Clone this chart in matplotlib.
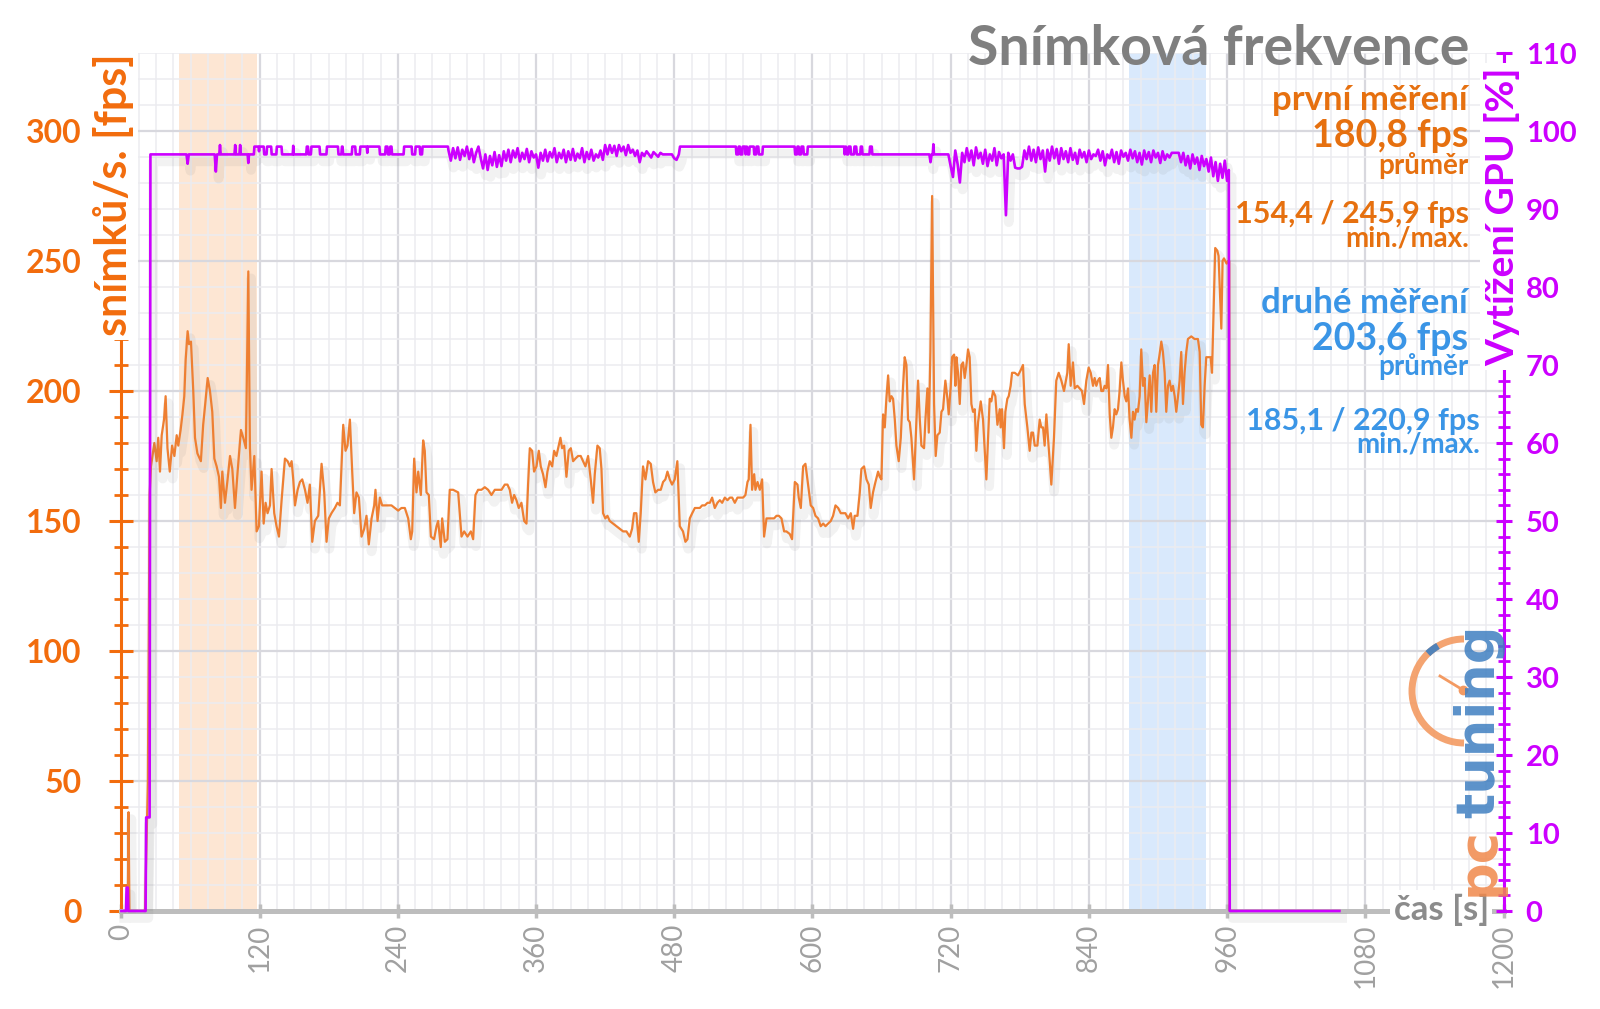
import numpy as np
import matplotlib
matplotlib.use("Agg")
import matplotlib.pyplot as plt
import matplotlib.patheffects as pe
from matplotlib.patches import Arc
from matplotlib.ticker import MultipleLocator

plt.rcParams.update({"font.family": ["Lato", "DejaVu Sans"]})

W, H = 1600, 1009

ORANGE = "#ee7f32"      # fps line
ORANGE_TXT = "#f26c0d"  # left axis
ORANGE_ANN = "#e6700f"  # first measurement text
MAGENTA = "#cc00ff"     # GPU load
BLUE_TXT = "#3a95e6"
GRAY_AX = "#bdbdbd"
GRAY_TXT = "#a0a0a0"
TITLE = "#7f7f7f"

# ---------------------------------------------------------------- data
# frame rate [fps] over time [s]
FPS_T = [0, 5.5, 6.2, 7, 20.5, 23, 24.5, 25.7, 28.6, 30.6,
         32, 33.5, 35, 37, 38.4, 40, 42, 44, 46, 48,
         49.4, 51.4, 53, 54.6, 55.8, 57.5, 58.7, 60.4, 62.4, 63.9,
         66, 69, 71, 73, 74.9, 76.9, 78.9, 80.7, 82.7, 84.7,
         86.4, 87.6, 89.9, 92.2, 94.3, 96.3, 98.6, 100.9, 103.8, 105.8,
         108.1, 110.2, 111.6, 113, 115.4, 117.4, 119.4, 121.7, 123.5, 125.2,
         126.9, 129, 130.4, 132.7, 134.7, 136.8, 139.1, 142, 144.3, 146.3,
         147.8, 149.2, 150.7, 153, 155, 157, 159.4, 161.6, 163.6, 165.7,
         168, 170.9, 173.8, 176.1, 178.1, 180.1, 182.4, 185.3, 187.6, 189.7,
         192.6, 194.6, 196.3, 198.4, 200.4, 202.1, 204.1, 206.2, 208.5, 210.8,
         212.8, 214.8, 217.2, 219.5, 220.6, 222.4, 224.4, 226.4, 228.7, 231.6,
         234.5, 237.4, 240.3, 243.2, 246.1, 249, 251.3, 252.5, 254.2, 256.2,
         257.7, 260, 262, 263.4, 264.9, 266.9, 268.7, 271.5, 273.6, 275,
         277.3, 278.5, 280.8, 283.1, 285.1, 288, 292.4, 295.3, 297.6, 300.5,
         303.4, 305.4, 307.4, 309.7, 312.6, 315.5, 318.4, 321.3, 324.2, 327.1,
         330, 332.9, 335.2, 337.2, 339.2, 341, 343, 345, 347.3, 349.7,
         351.7, 353.1, 354.6, 356.6, 358.3, 360.4, 362.4, 364.1, 366.1, 368.2,
         369.9, 371.9, 374, 375.7, 377.7, 379.7, 381.2, 382.6, 384.4, 386.4,
         388.4, 390.2, 392.2, 394.2, 396.5, 398.8, 400.9, 402.9, 405.2, 407.5,
         409.5, 411, 413.3, 415.3, 416.8, 418.2, 420.2, 422, 424, 426.9,
         429.8, 432.7, 435.6, 438.5, 441.4, 443.4, 445.1, 447.1, 449.2, 450.9,
         452.9, 455, 457.3, 459.6, 461.6, 463.6, 466, 468.3, 470.3, 472.3,
         474.1, 476.1, 478.1, 480.4, 482.7, 484.8, 487.6, 489.7, 491.5, 493.5,
         495.6, 497.9, 500.2, 502.2, 504.2, 506.6, 508.9, 510.9, 512.9, 515.2,
         517.5, 519.6, 521.6, 523.9, 526.2, 528.3, 530.3, 532.6, 534.9, 536.9,
         539.8, 541.8, 543.6, 544.7, 546.2, 547.6, 549.4, 550.5, 552.3, 554.3,
         556.3, 558, 560.1, 562.1, 564.4, 566.7, 568.8, 570.8, 573.1, 575.4,
         577.4, 580.3, 582.3, 584.7, 587, 588.1, 589.9, 591.9, 593.9, 596.2,
         598.5, 600.6, 602.6, 604.9, 607.2, 609.3, 611.3, 613.6, 615.9, 617.9,
         620, 622.3, 624.6, 626.6, 628.6, 631, 633.3, 635.3, 636.7, 639.1,
         641.1, 642.5, 644.8, 646.9, 648.9, 650.6, 652.6, 654.7, 657, 658.4,
         659.9, 661.3, 662.8, 664.2, 665.7, 667.1, 668.6, 670, 671.5, 672.9,
         674.9, 676.7, 678.7, 680.1, 681.6, 683, 684.5, 685.9, 688.2, 690.3,
         691.7, 693.2, 694.6, 696.9, 698.1, 699.8, 701, 702.4, 703.9, 705.6,
         707, 708.5, 710.5, 712, 713.4, 715.4, 717.2, 718.3, 720.1, 721.2,
         723, 724.1, 725, 726.4, 727.9, 729.3, 730.8, 732.2, 733.7, 735.1,
         736.5, 738, 739.4, 740.9, 742.3, 743.8, 746.1, 748.1, 749.6, 751,
         752.5, 753.9, 755.3, 756.8, 758.8, 760.6, 762.6, 763.4, 764.6, 766.3,
         767.5, 769.2, 770.4, 772.1, 773.3, 775.6, 778.5, 780.8, 782.8, 784.3,
         786.6, 788.6, 790.1, 791.5, 793, 795.3, 797.3, 798.7, 800.2, 801.6,
         803.1, 804.5, 806, 807.4, 809.7, 811.7, 813.8, 816.1, 818.4, 821.3,
         822.5, 824.2, 826.2, 827.7, 830, 832, 834, 835.8, 837.8, 839.8,
         841.6, 843.6, 845, 846.5, 847.9, 849.4, 850.8, 852.3, 853.7, 855.2,
         856.6, 858.1, 859.5, 860.9, 862.4, 863.8, 865.3, 866.7, 868.2, 869.6,
         871.1, 872.5, 874, 875.4, 876.9, 878.3, 879.7, 881.2, 882.6, 884.1,
         885.5, 887, 888.4, 889.9, 891.3, 892.8, 894.2, 895.7, 897.1, 898.5,
         900, 901.4, 902.9, 904.3, 905.8, 907.2, 908.7, 910.1, 911.6, 913,
         914.5, 915.9, 917.4, 918.8, 920.2, 921.7, 923.1, 924.6, 926, 928.9,
         931.8, 934.7, 936.2, 937.6, 939, 940.5, 941.9, 943.4, 945.7, 946.9,
         948.6, 949.7, 951.5, 952.6, 953.8, 955, 956.1, 957.3, 958.4, 959.6,
         960.7, 961.9, 962.2, 1057.5]
FPS_V = [0, 0, 38, 0, 0, 50, 160, 171, 180, 173,
         182, 169, 183, 189, 198, 178, 169, 179, 175, 183,
         179, 185, 191, 198, 212, 223, 218, 219, 200, 182,
         176, 173, 187, 196, 205, 200, 192, 174, 171, 167,
         155, 169, 157, 166, 175, 170, 155, 169, 185, 182,
         178, 246, 178, 162, 175, 146, 148, 169, 149, 157,
         153, 156, 170, 153, 148, 144, 158, 174, 173, 171,
         173, 166, 156, 162, 165, 166, 162, 157, 164, 142,
         150, 152, 172, 161, 142, 151, 153, 155, 157, 156,
         187, 177, 179, 189, 169, 153, 161, 159, 144, 147,
         152, 141, 151, 156, 162, 150, 159, 156, 156, 156,
         156, 155, 154, 155, 155, 151, 143, 146, 174, 161,
         169, 160, 181, 177, 161, 160, 144, 143, 148, 150,
         140, 151, 142, 143, 162, 162, 161, 144, 146, 144,
         146, 143, 160, 162, 162, 163, 162, 160, 162, 162,
         162, 164, 164, 162, 157, 160, 158, 155, 157, 150,
         149, 164, 178, 177, 169, 171, 177, 171, 168, 163,
         169, 173, 171, 177, 175, 179, 182, 178, 179, 167,
         177, 178, 173, 174, 175, 175, 173, 171, 175, 166,
         157, 168, 179, 178, 170, 153, 151, 152, 150, 149,
         148, 147, 146, 146, 144, 147, 153, 153, 142, 153,
         171, 166, 173, 172, 165, 161, 162, 162, 165, 166,
         169, 166, 164, 166, 173, 148, 146, 142, 143, 151,
         153, 155, 155, 155, 156, 156, 157, 157, 159, 155,
         157, 158, 157, 159, 158, 159, 159, 157, 159, 159,
         159, 160, 165, 166, 187, 162, 168, 162, 165, 162,
         166, 144, 151, 151, 151, 151, 152, 152, 151, 146,
         146, 145, 143, 165, 164, 159, 155, 171, 172, 164,
         156, 155, 152, 151, 148, 149, 148, 149, 150, 152,
         156, 155, 153, 153, 153, 151, 153, 147, 152, 152,
         161, 170, 171, 166, 164, 155, 161, 165, 169, 167,
         166, 191, 186, 197, 206, 196, 198, 197, 189, 179,
         173, 182, 202, 213, 210, 189, 188, 182, 166, 189,
         204, 189, 179, 178, 189, 201, 184, 215, 275, 195,
         175, 183, 184, 192, 193, 204, 197, 191, 202, 213,
         214, 202, 213, 207, 195, 210, 211, 205, 210, 216,
         213, 195, 192, 193, 177, 188, 196, 189, 177, 166,
         182, 197, 196, 200, 198, 187, 193, 186, 193, 178,
         192, 197, 198, 202, 207, 207, 206, 208, 210, 195,
         186, 177, 184, 184, 179, 179, 189, 186, 186, 179,
         191, 182, 173, 164, 182, 204, 207, 204, 200, 207,
         218, 202, 211, 201, 202, 201, 200, 195, 204, 209,
         207, 202, 205, 202, 204, 205, 200, 200, 202, 201,
         210, 191, 182, 186, 193, 191, 193, 200, 211, 204,
         198, 196, 201, 189, 182, 192, 189, 193, 192, 198,
         216, 202, 205, 188, 196, 206, 192, 207, 210, 192,
         210, 214, 219, 215, 207, 192, 202, 204, 200, 202,
         198, 192, 198, 204, 215, 195, 207, 215, 220, 221,
         220, 220, 215, 187, 186, 202, 213, 213, 213, 207,
         236, 255, 254, 252, 238, 224, 250, 251, 250, 249,
         250, 250, 0, 0]

# GPU load [%]: steady stretches as (time, value) pairs, noisy stretches sampled every 2 s
GPU_START = [(0, 0), (4, 0), (4.5, 3), (5.5, 3), (6, 0), (21, 0), (21.5, 12), (24.5, 12), (25.2, 97),
             (56.5, 97), (57.5, 95.8), (58.5, 97), (81, 97), (82, 94.8), (83, 97), (85, 97), (85.6, 98.2),
             (86.2, 97), (98.2, 97), (98.8, 98.2), (99.4, 97), (102.5, 97), (103.1, 98.2), (103.7, 97),
             (109.6, 97), (110.2, 95.9), (110.8, 97), (115, 97), (115.5, 98), (119, 98), (119.5, 97.4),
             (120, 98), (123.5, 98), (124, 97), (126, 97), (126.5, 98), (130, 98), (130.5, 97),
             (134.5, 97), (135, 98), (139, 98), (139.5, 97), (148.8, 97), (149.2, 98.1), (149.6, 97),
             (160.5, 97), (161, 98), (162, 98), (162.5, 97), (164.5, 97), (165, 98), (172, 98),
             (172.5, 97), (178, 97), (178.5, 98), (188, 98), (188.5, 97), (191, 97), (191.5, 98),
             (192, 98), (192.5, 97), (200, 97), (200.5, 98), (203, 98), (203.5, 97), (207, 97),
             (207.5, 98), (213, 98), (213.5, 97.2), (214, 98), (224, 98), (224.5, 97), (229, 97),
             (229.5, 98), (231, 98), (231.5, 97), (233, 97), (233.5, 98), (234.5, 98), (235, 97),
             (245, 97), (245.5, 98), (252, 98), (252.5, 97), (255, 97), (255.5, 98), (259, 98),
             (259.5, 97), (261, 97), (261.5, 98), (283.5, 98)]
GPU_NOISY_A_START = 284
GPU_NOISY_A = [97.5, 96.2, 97.8, 96.5, 97.9, 96.3, 97.6, 96.8, 98.0, 96.4,
               97.7, 96.0, 97.2, 98.0, 96.5, 95.2, 97.0, 95.0, 96.8, 95.6,
               97.3, 95.4, 96.9, 95.5, 97.4, 96.2, 97.6, 96.0, 97.5, 96.6,
               97.8, 96.1, 97.2, 96.4, 97.7, 96.0, 97.4, 96.6, 97.0, 95.3,
               97.2, 96.2, 97.6, 96.1, 97.3, 96.6, 97.8, 96.0, 97.2, 96.5,
               97.6, 96.0, 97.4, 96.3, 97.7, 96.2, 97.1, 96.5, 97.8, 96.0,
               97.3, 96.4, 97.6, 96.2, 97.0, 96.6, 97.5, 96.3, 98.2, 97.0,
               98.2, 97.2, 98.1, 96.8, 98.2, 97.4, 98.0, 96.9, 98.2, 97.2,
               97.6, 96.8, 97.5, 96.0, 97.2, 96.8, 97.4, 97.0, 96.6, 97.3,
               97.0, 96.7, 97.2, 97.0, 97.0, 97.0, 97.0, 97.0, 96.5, 96.3,
               97.0]
GPU_MID = [(485, 98), (533.5, 98), (534, 97), (535.5, 97), (536, 98), (537, 98), (537.5, 97),
           (539, 97), (539.5, 98), (541.5, 98), (542, 97), (543, 98), (544, 97), (545, 97),
           (545.5, 98), (549, 98), (549.5, 97), (551, 97), (551.5, 98), (553, 98), (553.5, 97),
           (556.5, 97), (557, 98), (584.5, 98), (585, 97), (586.5, 97), (587, 98), (588, 98),
           (588.5, 97), (590, 97), (590.5, 98), (592, 98), (592.5, 97), (595.5, 97), (596, 98),
           (627.5, 98), (628, 97), (629, 98), (630, 97), (631, 97), (631.5, 98), (633, 98),
           (633.5, 97), (636, 97), (636.5, 98), (638, 98), (638.5, 97), (641.5, 97), (642, 98),
           (643, 98), (643.5, 97), (649.5, 97), (650, 98), (651.5, 98), (652, 97), (701.5, 97),
           (702.5, 96), (703.5, 97), (704.5, 97), (705, 98.3), (705.5, 97), (717.5, 97)]
GPU_NOISY_B_START = 718
GPU_NOISY_B = [97.0, 95.5, 94.1, 97.5, 95.8, 93.4, 97.2, 96.0, 97.8, 96.2,
               97.5, 95.6, 97.9, 96.5, 97.2, 95.8, 97.6, 95.5, 97.0, 96.2,
               97.8, 95.6, 97.3, 96.5, 97.0, 89.2, 97.2, 96.2, 97.0, 95.3,
               95.2, 95.2, 95.4, 97.5, 96.4, 98.0, 96.2, 97.6, 96.0, 97.9,
               96.4, 97.5, 94.8, 97.6, 96.2, 98.0, 96.5, 97.7, 95.8, 97.8,
               96.4, 97.4, 96.0, 97.8, 96.3, 97.2, 95.8, 97.6, 96.6, 97.3,
               96.0, 97.5, 96.4, 97.0, 96.8, 97.6, 96.2, 97.4, 95.6, 97.0,
               96.5, 97.6, 96.0, 97.3, 95.8, 97.5, 96.7, 97.2, 96.2, 97.6,
               96.5, 97.4, 96.0, 97.2, 95.7, 97.5, 96.4, 97.3, 96.0, 97.5,
               96.6, 97.2, 95.9, 97.4, 96.3, 97.0, 96.6, 97.2, 97.2, 97.2,
               97.2, 96.0, 97.2, 95.6, 96.8, 95.2, 97.0, 95.8, 96.6, 95.0,
               96.8, 95.5, 96.4, 94.8, 96.6, 94.2, 96.0, 93.6, 95.8, 94.0,
               96.2, 93.6]
GPU_END = [(961.5, 95), (962.3, 0), (1057.5, 0)]

BAND_FIRST = (50, 118)      # first measured window [s]
BAND_SECOND = (875, 941.5)  # second measured window [s]

X_TICKS = list(range(0, 1201, 120))
FPS_TICKS = list(range(0, 301, 50))
GPU_TICKS = list(range(0, 111, 10))

# ---------------------------------------------------------------- assemble GPU trace
gpu_t = [p[0] for p in GPU_START]
gpu_v = [p[1] for p in GPU_START]
gpu_t += [GPU_NOISY_A_START + 2 * i for i in range(len(GPU_NOISY_A))]; gpu_v += GPU_NOISY_A
gpu_t += [p[0] for p in GPU_MID]; gpu_v += [p[1] for p in GPU_MID]
gpu_t += [GPU_NOISY_B_START + 2 * i for i in range(len(GPU_NOISY_B))]; gpu_v += GPU_NOISY_B
gpu_t += [p[0] for p in GPU_END]; gpu_v += [p[1] for p in GPU_END]

# ---------------------------------------------------------------- figure
fig = plt.figure(figsize=(W / 100, H / 100), dpi=100)
fig.patch.set_facecolor("white")
ax = fig.add_axes([121.4 / W, 1 - 911 / H, (1503.5 - 121.4) / W, (911 - 53) / H])

ax.set_xlim(0, 1200)
ax.set_ylim(0, 330)
ax.xaxis.set_major_locator(MultipleLocator(120))
ax.xaxis.set_minor_locator(MultipleLocator(15))
ax.yaxis.set_major_locator(MultipleLocator(50))
ax.yaxis.set_minor_locator(MultipleLocator(10))
ax.set_axisbelow(True)
ax.grid(which="major", color="#d8d8de", lw=1.6)
ax.grid(which="minor", color="#ececf0", lw=1.1)

ax.axvspan(*BAND_FIRST, color="#fde6d3", lw=0, zorder=0.1)
ax.axvspan(*BAND_SECOND, color="#d9e9fc", lw=0, zorder=0.1)

shadow = [pe.SimpleLineShadow(offset=(2, -5), shadow_color="#808080", alpha=0.10, linewidth=7),
          pe.Normal()]
ax.plot(FPS_T, FPS_V, color=ORANGE, lw=1.6, zorder=3, path_effects=shadow)

for s in ("top", "right"):
    ax.spines[s].set_visible(False)
ax.spines["left"].set_color(ORANGE_TXT)
ax.spines["left"].set_linewidth(2.2)
ax.spines["bottom"].set_color(GRAY_AX)
ax.spines["bottom"].set_linewidth(3.6)

ax.set_xticks(X_TICKS)
ax.set_xticklabels([str(v) for v in X_TICKS], rotation=90, color=GRAY_TXT, fontsize=20)
ax.tick_params(axis="x", which="major", direction="inout", length=10, width=2.5,
               color=GRAY_AX, pad=4)
ax.tick_params(axis="x", which="minor", length=0)

ax.set_yticks(FPS_TICKS)
ax.set_yticklabels([str(v) for v in FPS_TICKS], color=ORANGE_TXT, fontsize=23,
                   fontweight="bold")
ax.tick_params(axis="y", which="major", direction="inout", length=17, width=2.2,
               color=ORANGE_TXT, pad=20)
ax.tick_params(axis="y", which="minor", direction="inout", length=10, width=2.0,
               color=ORANGE_TXT)

ax2 = ax.twinx()
ax2.set_ylim(0, 110)
ax2.plot(gpu_t, gpu_v, color=MAGENTA, lw=1.9, zorder=3, clip_on=False, path_effects=shadow)
for s in ("top", "left", "bottom"):
    ax2.spines[s].set_visible(False)
ax2.spines["right"].set_color(MAGENTA)
ax2.spines["right"].set_linewidth(2.2)
ax2.yaxis.set_minor_locator(MultipleLocator(2))
ax2.set_yticks(GPU_TICKS)
ax2.set_yticklabels([str(v) for v in GPU_TICKS], color=MAGENTA, fontsize=21,
                    fontweight="bold")
ax2.tick_params(axis="y", which="major", direction="inout", length=12, width=2.2,
                color=MAGENTA, pad=10)
ax2.tick_params(axis="y", which="minor", direction="inout", length=8, width=2.0,
                color=MAGENTA)

# ---------------------------------------------------------------- overlay (pixel coords)
ov = fig.add_axes([0, 0, 1, 1], zorder=10)
ov.set_xlim(0, W); ov.set_ylim(H, 0); ov.axis("off")

white = dict(boxstyle="square,pad=0.1", fc="white", ec="none")
ov.text(113.5, 53, "snímků/s. [fps]", rotation=90, rotation_mode="anchor", ha="right",
        va="center", color=ORANGE_TXT, fontsize=31, fontweight="bold", bbox=white)
ov.text(1502, 67, "Vytížení GPU [%]", rotation=90, rotation_mode="anchor", ha="right",
        va="center", color=MAGENTA, fontsize=28, fontweight="bold", bbox=white)
ov.text(1489, 910, "čas [s]", ha="right", va="center", color="#8c8c8c", fontsize=25,
        fontweight="bold", bbox=white)

ov.text(1469, 65, "Snímková frekvence", ha="right", va="baseline", color=TITLE,
        fontsize=40, fontweight="bold")

ann = [("první měření", 110, 25, ORANGE_ANN, 1468),
       ("180,8 fps", 147, 27, ORANGE_ANN, 1468),
       ("průměr", 174, 20, ORANGE_ANN, 1468),
       ("154,4 / 245,9 fps", 223, 22, ORANGE_ANN, 1469),
       ("min./max.", 246, 20, ORANGE_ANN, 1469),
       ("druhé měření", 313, 25, BLUE_TXT, 1468),
       ("203,6 fps", 350, 27, BLUE_TXT, 1468),
       ("průměr", 375, 20, BLUE_TXT, 1468),
       ("185,1 / 220,9 fps", 430, 22, BLUE_TXT, 1480),
       ("min./max.", 453, 20, BLUE_TXT, 1480)]
for txt, yb, fs, col, xr in ann:
    ov.text(xr, yb, txt, ha="right", va="baseline", color=col, fontsize=fs, fontweight="bold")

# pctuning watermark
ov.add_patch(Arc((1464, 691), 104, 104, theta1=90, theta2=270, color="#f39a62", lw=5, alpha=0.9))
ov.add_patch(Arc((1464, 691), 104, 104, theta1=226, theta2=240, color="#3f7fc1", lw=5, alpha=0.9))
ov.plot([1463, 1440], [690, 676], color="#f39a62", lw=2)
ov.plot([1463], [690], "o", color="#f39a62", ms=6)
ov.text(1494, 896, "pc", rotation=90, rotation_mode="anchor", ha="left", va="baseline",
        color="#f0884a", fontsize=38, fontweight="bold", family="DejaVu Sans", alpha=0.85)
ov.text(1494, 818, "tuning", rotation=90, rotation_mode="anchor", ha="left", va="baseline",
        color="#3f7fc1", fontsize=38, fontweight="bold", family="DejaVu Sans", alpha=0.85)

fig.savefig("out.png", dpi=100, facecolor="white")
